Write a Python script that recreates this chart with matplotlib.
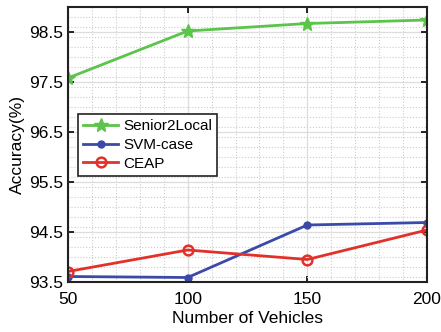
import numpy as np
import matplotlib.pyplot as plt
from matplotlib.ticker import MultipleLocator

plt.rcParams['font.family'] = ['Liberation Sans', 'DejaVu Sans']

vehicles = [50, 100, 150, 200]
senior2local = [97.58, 98.52, 98.67, 98.74]
svm_case = [93.61, 93.59, 94.64, 94.69]
ceap = [93.71, 94.14, 93.95, 94.54]

fig = plt.figure(figsize=(4.41, 3.32), dpi=100)
ax = fig.add_axes([68/441, 1 - 282/332, 359/441, 275/332])

ax.plot(vehicles, senior2local, color='#5bc44a', lw=2, marker='*', ms=10, label='Senior2Local')
ax.plot(vehicles, svm_case, color='#3b4aa8', lw=2, marker='o', ms=5, label='SVM-case')
ax.plot(vehicles, ceap, color='#e2312a', lw=2, marker='o', ms=7, mfc='none', mew=1.8, label='CEAP')

ax.set_xlim(50, 200)
ax.set_ylim(93.5, 99.0)
ax.set_xticks(vehicles)
ax.set_yticks([93.5, 94.5, 95.5, 96.5, 97.5, 98.5])
ax.set_yticklabels(['93.5', '94.5', '95.5', '96.5', '97.5', '98.5'])
ax.xaxis.set_minor_locator(MultipleLocator(10))
ax.yaxis.set_minor_locator(MultipleLocator(0.2))
ax.grid(which='major', color='#dddddd', lw=0.9)
ax.grid(which='minor', color='#cccccc', lw=0.8, ls=':')
ax.tick_params(which='major', direction='in', top=True, right=True, length=4, width=1.2, labelsize=12.5)
ax.tick_params(axis='x', which='major', pad=7)
ax.tick_params(which='minor', length=0)
for s in ax.spines.values():
    s.set_linewidth(1.5)
    s.set_color('#222222')

ax.set_xlabel('Number of Vehicles', fontsize=12.5, labelpad=3)
ax.set_ylabel('Accuracy(%)', fontsize=12.5, labelpad=3)

leg = ax.legend(loc='upper left', bbox_to_anchor=(10/359, 168/275), fontsize=11,
                frameon=True, fancybox=False, edgecolor='#222222', framealpha=1,
                borderaxespad=0, handlelength=2.3, handletextpad=0.3,
                borderpad=0.35, labelspacing=0.3)
leg.get_frame().set_linewidth(1.2)

fig.savefig('out.png', dpi=100)
